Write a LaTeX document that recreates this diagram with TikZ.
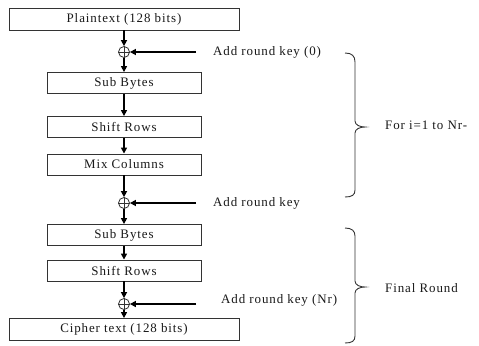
\documentclass[tikz,border=0pt]{standalone}
\usepackage{fontspec}
\setmainfont{Liberation Serif}[LetterSpace=7]
\usetikzlibrary{arrows.meta}
\begin{document}
\begin{tikzpicture}[x=1bp,y=-1bp,
  font=\fontsize{13}{15}\selectfont,
  wbox/.style={draw=black!80,line width=0.9bp,minimum width=230bp,minimum height=22bp,inner sep=0pt,text=black!90},
  nbox/.style={draw=black!80,line width=0.9bp,minimum width=154bp,minimum height=21bp,inner sep=0pt,text=black!90},
  xorc/.style={draw=black!80,line width=0.8bp,circle,minimum size=11bp,inner sep=0pt},
  spine/.style={line width=2bp,-{Triangle[length=6bp,width=6bp]}},
  keyline/.style={line width=1.5bp,-{Triangle[length=6bp,width=6bp]}},
  lbl/.style={anchor=west,inner sep=0pt,text=black!90},
  brace/.style={line width=0.9bp,black!80}]
\useasboundingbox (0,0) rectangle (479,345);
\fill[white] (0,0) rectangle (479,345);
\node[wbox] (plain) at (124,19) {Plaintext (128 bits)};
\node[xorc] (x1) at (124,52) {};
\node[nbox] (sb1) at (124,83) {Sub Bytes};
\node[nbox] (sr1) at (124,127) {Shift Rows};
\node[nbox] (mc) at (124,164.5) {Mix Columns};
\node[xorc] (x2) at (124,203) {};
\node[nbox] (sb2) at (124,235) {Sub Bytes};
\node[nbox] (sr2) at (124,270.5) {Shift Rows};
\node[xorc] (x3) at (124,304) {};
\node[wbox] (cipher) at (124,329.5) {Cipher text (128 bits)};
\foreach \c in {x1,x2,x3}{
  \draw[black!80,line width=0.8bp] (\c.north) -- (\c.south) (\c.west) -- (\c.east);
}
\draw[spine] (plain) -- (x1);
\draw[spine] (x1) -- (sb1);
\draw[spine] (sb1) -- (sr1);
\draw[spine] (sr1) -- (mc);
\draw[spine] (mc) -- (x2);
\draw[spine] (x2) -- (sb2);
\draw[spine] (sb2) -- (sr2);
\draw[spine] (sr2) -- (x3);
\draw[spine] (x3) -- (cipher);
\coordinate (k1) at (196,52);
\coordinate (k2) at (196,203);
\coordinate (k3) at (196,304);
\draw[keyline] (k1) -- (x1);
\draw[keyline] (k2) -- (x2);
\draw[keyline] (k3) -- (x3);
\node[lbl] (l1) at (213,52) {Add round key (0)};
\node[lbl] (l2) at (213,203) {Add round key};
\node[lbl] (l3) at (221,300) {Add round key (Nr)};
\draw[brace] (345,53) .. controls (352,53) and (355,56) .. (355,62) -- (355,121)
  .. controls (355,125) and (360,127) .. (365,127) .. controls (360,127) and (355,129) .. (355,133)
  -- (355,190) .. controls (355,195) and (352,197) .. (345,197);
\draw[brace] (345,228) .. controls (352,228) and (355,231) .. (355,236) -- (355,281)
  .. controls (355,285) and (360,287) .. (365,287) .. controls (360,287) and (355,289) .. (355,293)
  -- (355,336) .. controls (355,341) and (352,343) .. (345,343);
\node[lbl] (l4) at (385,125) {For i=1 to Nr-};
\node[lbl] (l5) at (385,288) {Final Round};
\end{tikzpicture}
\end{document}
